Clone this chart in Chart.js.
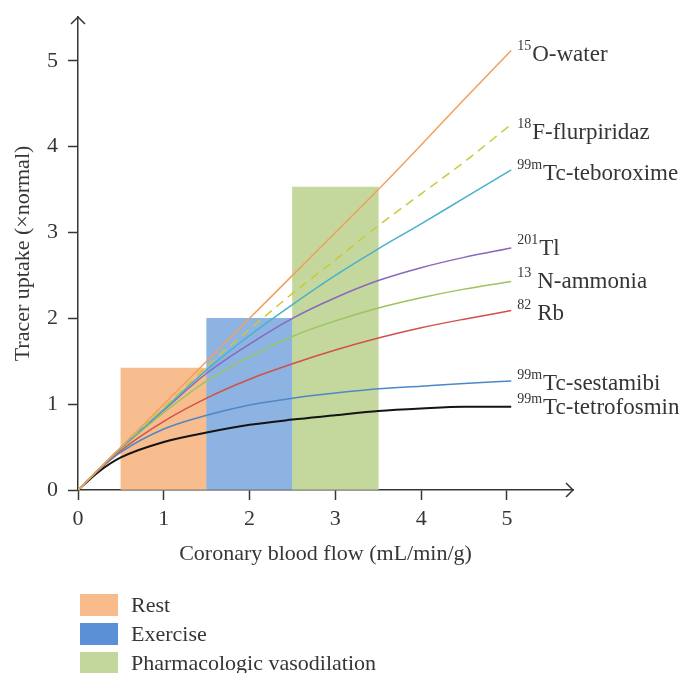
<!DOCTYPE html>
<html>
<head>
<meta charset="utf-8">
<script src="https://cdn.jsdelivr.net/npm/chart.js@4.4.1/dist/chart.umd.min.js"></script>
<style>
  html, body { margin: 0; padding: 0; background: #fff; }
  #wrap { width: 688px; height: 673px; }
</style>
</head>
<body>
<div id="wrap"><canvas id="uptake"></canvas></div>
<script>
// ── DATA ────────────────────────────────────────────────────────────
// flow sample points (mL/min/g) shared by every tracer curve
const flow = [0, 0.25, 0.5, 1, 1.5, 2, 2.5, 3, 3.5, 4, 4.5, 5.05];

// tracer uptake (x normal) at each flow point
const water       = [0, 0.25, 0.5, 1.0, 1.5, 2.0, 2.5, 3.0, 3.5, 4.02, 4.55, 5.12];
const flurpiridaz = [0, 0.25, 0.5, 0.96, 1.44, 1.87, 2.29, 2.68, 3.08, 3.45, 3.82, 4.26];
const teboroxime  = [0, 0.25, 0.49, 0.94, 1.40, 1.80, 2.16, 2.50, 2.81, 3.10, 3.40, 3.73];
const thallium    = [0, 0.25, 0.49, 0.93, 1.36, 1.70, 2.00, 2.24, 2.44, 2.59, 2.71, 2.82];
const ammonia     = [0, 0.25, 0.48, 0.90, 1.27, 1.55, 1.79, 1.97, 2.12, 2.24, 2.34, 2.43];
const rubidium    = [0, 0.24, 0.46, 0.80, 1.07, 1.29, 1.47, 1.63, 1.77, 1.89, 1.99, 2.09];
const sestamibi   = [0, 0.24, 0.44, 0.71, 0.87, 0.99, 1.07, 1.13, 1.18, 1.21, 1.24, 1.27];
const tetrofosmin = [0, 0.22, 0.38, 0.56, 0.67, 0.76, 0.82, 0.87, 0.92, 0.95, 0.97, 0.97];

const isotopes = ['15', '18', '99m', '201', '13', '82', '99m', '99m'];
const tracers  = ['O-water', 'F-flurpiridaz', 'Tc-teboroxime', 'Tl', 'N-ammonia', 'Rb', 'Tc-sestamibi', 'Tc-tetrofosmin'];

// flow ranges for each physiological state
const states      = ['Rest', 'Exercise', 'Pharmacologic vasodilation'];
const stateFlow   = [1, 2, 3];
const stateUptake = [1.42, 2.0, 3.53];

const xTicks = [0, 1, 2, 3, 4, 5];
const yTicks = [0, 1, 2, 3, 4, 5];

// ── STYLE ───────────────────────────────────────────────────────────
const serif = "'Liberation Serif', 'Times New Roman', serif";
const ink = '#363636';
const lineColors = ['#f0a05c', '#c9c93c', '#4ab0cc', '#8a68bc', '#9cc45c', '#d2504a', '#4d88c6', '#141414'];
const labelShift = [4, 8, 3, 0, 0, 2, 2, 0];
const labelGap = [1, 1, 1, 1, 6, 6, 1, 1];
const barColors = ['#f7bd8e', '#8db3e2', '#c4d89d'];
const keyColors = ['#f8bb8b', '#5b8fd6', '#c3d69b'];

const curves = [water, flurpiridaz, teboroxime, thallium, ammonia, rubidium, sestamibi, tetrofosmin];

const lineSets = curves.map((vals, i) => ({
  type: 'line',
  label: isotopes[i] + tracers[i],
  data: flow.map((x, j) => ({ x, y: vals[j] })),
  borderColor: lineColors[i],
  borderWidth: i === 7 ? 2 : 1.5,
  borderDash: i === 1 ? [9, 6] : [],
  pointRadius: 0,
  cubicInterpolationMode: 'monotone',
  order: 1
}));

const stateSet = {
  type: 'bar',
  label: 'states',
  data: stateFlow.map((x, i) => ({ x, y: stateUptake[i] })),
  backgroundColor: barColors,
  borderWidth: 0,
  barPercentage: 1,
  categoryPercentage: 1,
  order: 2
};

// ── PLUGINS ─────────────────────────────────────────────────────────
// open arrow heads at the ends of both axes
const axisArrows = {
  id: 'axisArrows',
  afterDraw(chart) {
    const { ctx, chartArea: a } = chart;
    ctx.save();
    ctx.strokeStyle = ink;
    ctx.lineWidth = 1.5;
    ctx.beginPath();
    ctx.moveTo(a.left - 7, a.top + 7);
    ctx.lineTo(a.left, a.top);
    ctx.lineTo(a.left + 7, a.top + 7);
    ctx.moveTo(a.right - 7, a.bottom - 7);
    ctx.lineTo(a.right, a.bottom);
    ctx.lineTo(a.right - 7, a.bottom + 7);
    ctx.stroke();
    ctx.restore();
  }
};

// tracer names with isotope superscripts at the end of each curve
const curveLabels = {
  id: 'curveLabels',
  afterDatasetsDraw(chart) {
    const { ctx } = chart;
    ctx.save();
    ctx.fillStyle = ink;
    ctx.textBaseline = 'alphabetic';
    ctx.textAlign = 'left';
    chart.data.datasets.forEach((ds, i) => {
      if (ds.type !== 'line') return;
      const pts = chart.getDatasetMeta(i).data;
      const end = pts[pts.length - 1];
      const x = end.x + 6;
      const base = end.y + labelShift[i] + 7;
      ctx.font = '14px ' + serif;
      ctx.fillText(isotopes[i], x, base - 11);
      const w = ctx.measureText(isotopes[i]).width;
      ctx.font = '23px ' + serif;
      ctx.fillText(tracers[i], x + w + labelGap[i], base);
    });
    ctx.restore();
  }
};

// state key under the x axis
const stateKey = {
  id: 'stateKey',
  afterDraw(chart) {
    const { ctx } = chart;
    ctx.save();
    ctx.font = '22px ' + serif;
    ctx.textBaseline = 'middle';
    ctx.textAlign = 'left';
    states.forEach((s, i) => {
      const top = 594 + i * 29;
      ctx.fillStyle = keyColors[i];
      ctx.fillRect(80, top, 38, 22);
      ctx.fillStyle = ink;
      ctx.fillText(s, 131, top + 12);
    });
    ctx.restore();
  }
};

// ── CHART ───────────────────────────────────────────────────────────
new Chart(document.getElementById('uptake'), {
  type: 'line',
  data: { datasets: [...lineSets, stateSet] },
  plugins: [axisArrows, curveLabels, stateKey],
  options: {
    responsive: true,
    maintainAspectRatio: false,
    animation: false,
    layout: { padding: { top: 17, right: 115, left: 0, bottom: 0 } },
    plugins: { legend: { display: false }, tooltip: { enabled: false } },
    scales: {
      x: {
        type: 'linear', min: 0, max: 5.77, offset: false,
        afterBuildTicks: s => { s.ticks = xTicks.map(v => ({ value: v })); },
        afterFit: s => { s.height = 183; s.paddingLeft = 0; s.paddingRight = 0; },
        grid: { offset: false, drawOnChartArea: false, drawTicks: true, tickLength: 10, tickWidth: 1.5, tickColor: ink },
        border: { display: true, color: ink, width: 1.5 },
        ticks: { color: ink, font: { family: serif, size: 22 }, padding: 6, maxRotation: 0 },
        title: {
          display: true, text: 'Coronary blood flow (mL/min/g)', color: ink,
          font: { family: serif, size: 22 }, padding: { top: 0, bottom: 106 }
        }
      },
      y: {
        type: 'linear', min: 0, max: 5.51,
        afterBuildTicks: s => { s.ticks = yTicks.map(v => ({ value: v })); },
        afterFit: s => { s.width = 78; s.paddingTop = 0; s.paddingBottom = 0; },
        grid: { drawOnChartArea: false, drawTicks: true, tickLength: 10, tickWidth: 1.5, tickColor: ink },
        border: { display: true, color: ink, width: 1.5 },
        ticks: { color: ink, font: { family: serif, size: 22 }, padding: 10 },
        title: {
          display: true, text: 'Tracer uptake (×normal)', color: ink,
          font: { family: serif, size: 22 }, padding: { top: 10, bottom: 0 }
        }
      }
    }
  }
});
</script>
</body>
</html>
